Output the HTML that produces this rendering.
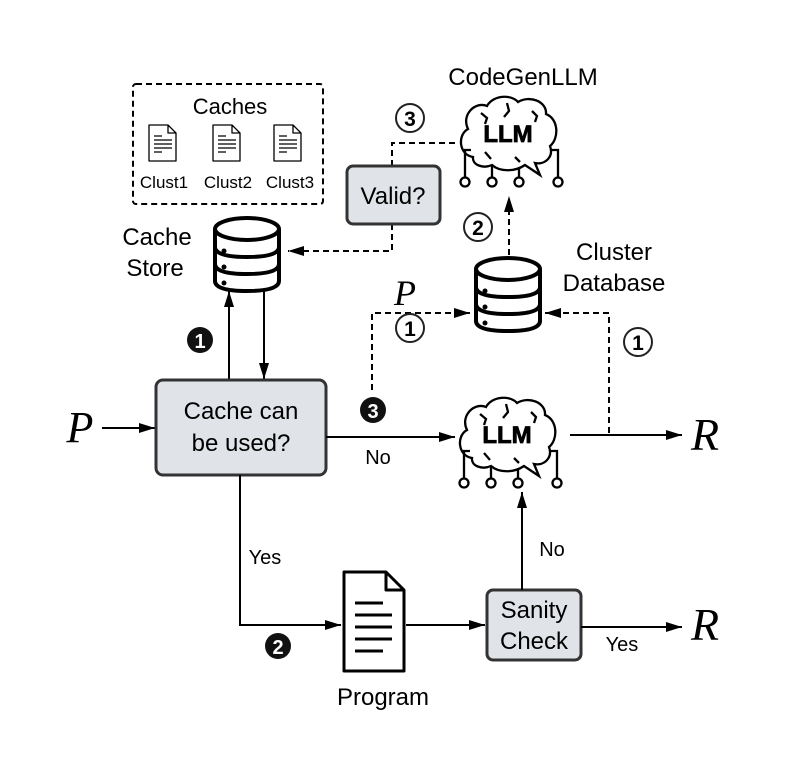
<!DOCTYPE html>
<html><head><meta charset="utf-8"><style>
html,body{margin:0;padding:0;background:#fff;}
svg{display:block;font-family:"Liberation Sans",sans-serif;}
</style></head><body>
<svg width="793" height="773" viewBox="0 0 793 773" xmlns="http://www.w3.org/2000/svg">
<defs>
<marker id="a" viewBox="0 0 16 10" markerWidth="16" markerHeight="10" refX="16" refY="5" orient="auto" markerUnits="userSpaceOnUse"><path d="M0,0 L16,5 L0,10 Z" fill="#000"/></marker>
<g id="doc"><path d="M1,1 H20 L28,9 V37 H1 Z M20,1 V9 H28" fill="#fff" stroke="#000" stroke-width="1.3" stroke-linejoin="round"/>
<path d="M6,12 H14 M6,16 H24 M6,20 H24 M6,24 H24 M6,28 H14" stroke="#000" stroke-width="1.3"/></g>
<g id="db" fill="none" stroke="#000" stroke-width="4">
<path d="M2,12 V64 Q2,74 34,74 Q66,74 66,64 V12" fill="#fff"/>
<ellipse cx="34" cy="12" rx="32" ry="11" fill="#fff"/>
<path d="M2,30 Q2,40 34,40 Q66,40 66,30 M2,47 Q2,57 34,57 Q66,57 66,47"/>
<circle cx="11" cy="34" r="2.5" fill="#000" stroke="none"/><circle cx="11" cy="50" r="2.5" fill="#000" stroke="none"/><circle cx="11" cy="66" r="2.5" fill="#000" stroke="none"/>
</g>
<g id="brain" fill="none" stroke="#000" stroke-width="2.3">
<path d="M18,62 C4,60 2,40 13,34 C6,20 20,6 32,11 C38,0 56,-1 63,7 C74,0 92,6 91,19 C104,24 104,44 95,51 C99,62 90,70 80,68 L85,80 L70,70 C60,77 45,77 37,70 C28,74 17,70 18,62 Z" fill="#fff"/>
<path d="M26,18 l6,5 l-2,6 M52,8 l2,8 l-5,6 M77,16 l5,5 l-2,6 M30,57 l6,7 M60,62 l5,5"/>
<path d="M10,83 V55 H16 M37,83 V70 M64,83 V72 M103,83 V55 H97"/>
<circle cx="10" cy="87" r="4.5" fill="#fff"/><circle cx="37" cy="87" r="4.5" fill="#fff"/><circle cx="64" cy="87" r="4.5" fill="#fff"/><circle cx="103" cy="87" r="4.5" fill="#fff"/>
<text x="53" y="47" text-anchor="middle" font-size="24" font-weight="bold" fill="#000" stroke="#000" stroke-width="0.8" font-family="Liberation Sans">LLM</text>
</g>
</defs>

<!-- Caches box -->
<rect x="133" y="84" width="190" height="120" rx="3" fill="none" stroke="#000" stroke-width="2" stroke-dasharray="6,4"/>
<text x="230" y="114" text-anchor="middle" font-size="22">Caches</text>
<use href="#doc" x="148" y="124"/><use href="#doc" x="212" y="124"/><use href="#doc" x="273" y="124"/>
<text x="164" y="188" text-anchor="middle" font-size="17">Clust1</text>
<text x="228" y="188" text-anchor="middle" font-size="17">Clust2</text>
<text x="290" y="188" text-anchor="middle" font-size="17">Clust3</text>

<text x="523" y="85" text-anchor="middle" font-size="24">CodeGenLLM</text>
<circle cx="410" cy="118" r="14" fill="#fff" stroke="#222" stroke-width="2"/>
<text x="410" y="126" text-anchor="middle" font-size="21" font-weight="bold">3</text>
<use href="#brain" x="455" y="95"/>

<!-- Valid -->
<path d="M392,166 V143 H458" fill="none" stroke="#000" stroke-width="2" stroke-dasharray="6,4"/>
<path d="M392,224 V251 H288" fill="none" stroke="#000" stroke-width="2" stroke-dasharray="6,4" marker-end="url(#a)"/>
<rect x="347" y="166" width="93" height="58" rx="6" fill="#e0e3e8" stroke="#333" stroke-width="3"/>
<text x="393" y="204" text-anchor="middle" font-size="24">Valid?</text>

<text x="157" y="245" text-anchor="middle" font-size="24">Cache</text>
<text x="155" y="276" text-anchor="middle" font-size="24">Store</text>
<use href="#db" x="213" y="217"/>

<circle cx="478" cy="227" r="14" fill="#fff" stroke="#222" stroke-width="2"/>
<text x="478" y="235" text-anchor="middle" font-size="21" font-weight="bold">2</text>
<path d="M509,255 V196" fill="none" stroke="#000" stroke-width="2" stroke-dasharray="6,4" marker-end="url(#a)"/>
<use href="#db" x="474" y="257"/>
<text x="614" y="260" text-anchor="middle" font-size="24">Cluster</text>
<text x="614" y="291" text-anchor="middle" font-size="24">Database</text>
<text x="405" y="305" text-anchor="middle" font-size="36" font-style="italic" font-family="Liberation Serif">P</text>

<path d="M372,390 V313 H470" fill="none" stroke="#000" stroke-width="2" stroke-dasharray="6,4" marker-end="url(#a)"/>
<circle cx="410" cy="328" r="14" fill="#fff" stroke="#222" stroke-width="2"/>
<text x="410" y="336" text-anchor="middle" font-size="21" font-weight="bold">1</text>
<path d="M609,433 V313 H545" fill="none" stroke="#000" stroke-width="2" stroke-dasharray="6,4" marker-end="url(#a)"/>
<circle cx="638" cy="342" r="14" fill="#fff" stroke="#222" stroke-width="2"/>
<text x="638" y="350" text-anchor="middle" font-size="21" font-weight="bold">1</text>

<path d="M229,380 V291" stroke="#000" stroke-width="2" marker-end="url(#a)"/>
<path d="M264,291 V379" stroke="#000" stroke-width="2" marker-end="url(#a)"/>
<circle cx="200" cy="340" r="13" fill="#111"/>
<text x="200" y="348" text-anchor="middle" font-size="20" font-weight="bold" fill="#fff">1</text>

<text x="80" y="442" text-anchor="middle" font-size="44" font-style="italic" font-family="Liberation Serif">P</text>
<path d="M102,428 H155" stroke="#000" stroke-width="2" marker-end="url(#a)"/>
<rect x="156" y="380" width="170" height="95" rx="7" fill="#e0e3e8" stroke="#333" stroke-width="3"/>
<text x="241" y="419" text-anchor="middle" font-size="24">Cache can</text>
<text x="241" y="451" text-anchor="middle" font-size="24">be used?</text>

<circle cx="373" cy="410" r="13" fill="#111"/>
<text x="373" y="418" text-anchor="middle" font-size="20" font-weight="bold" fill="#fff">3</text>
<path d="M326,437 H455" stroke="#000" stroke-width="2" marker-end="url(#a)"/>
<text x="378" y="464" text-anchor="middle" font-size="20">No</text>
<use href="#brain" x="454" y="396"/>
<path d="M570,435 H682" stroke="#000" stroke-width="2" marker-end="url(#a)"/>
<text x="705" y="450" text-anchor="middle" font-size="46" font-style="italic" font-family="Liberation Serif">R</text>

<path d="M240,475 V625 H341" fill="none" stroke="#000" stroke-width="2" marker-end="url(#a)"/>
<text x="265" y="564" text-anchor="middle" font-size="20">Yes</text>
<circle cx="278" cy="646" r="13" fill="#111"/>
<text x="278" y="654" text-anchor="middle" font-size="20" font-weight="bold" fill="#fff">2</text>
<path d="M344,572 H386 L404,590 V671 H344 Z M386,572 V590 H404" fill="#fff" stroke="#000" stroke-width="3" stroke-linejoin="round"/>
<path d="M355,603 H383 M355,615 H392 M355,627 H392 M355,639 H392 M355,651 H383" stroke="#000" stroke-width="3"/>
<text x="383" y="705" text-anchor="middle" font-size="24">Program</text>
<path d="M406,625 H485" stroke="#000" stroke-width="2" marker-end="url(#a)"/>
<rect x="487" y="590" width="94" height="70" rx="6" fill="#e0e3e8" stroke="#333" stroke-width="3"/>
<text x="534" y="618" text-anchor="middle" font-size="24">Sanity</text>
<text x="534" y="649" text-anchor="middle" font-size="24">Check</text>
<path d="M522,590 V492" stroke="#000" stroke-width="2" marker-end="url(#a)"/>
<text x="552" y="556" text-anchor="middle" font-size="20">No</text>
<path d="M581,627 H682" stroke="#000" stroke-width="2" marker-end="url(#a)"/>
<text x="622" y="651" text-anchor="middle" font-size="20">Yes</text>
<text x="705" y="640" text-anchor="middle" font-size="46" font-style="italic" font-family="Liberation Serif">R</text>
</svg>
</body></html>
